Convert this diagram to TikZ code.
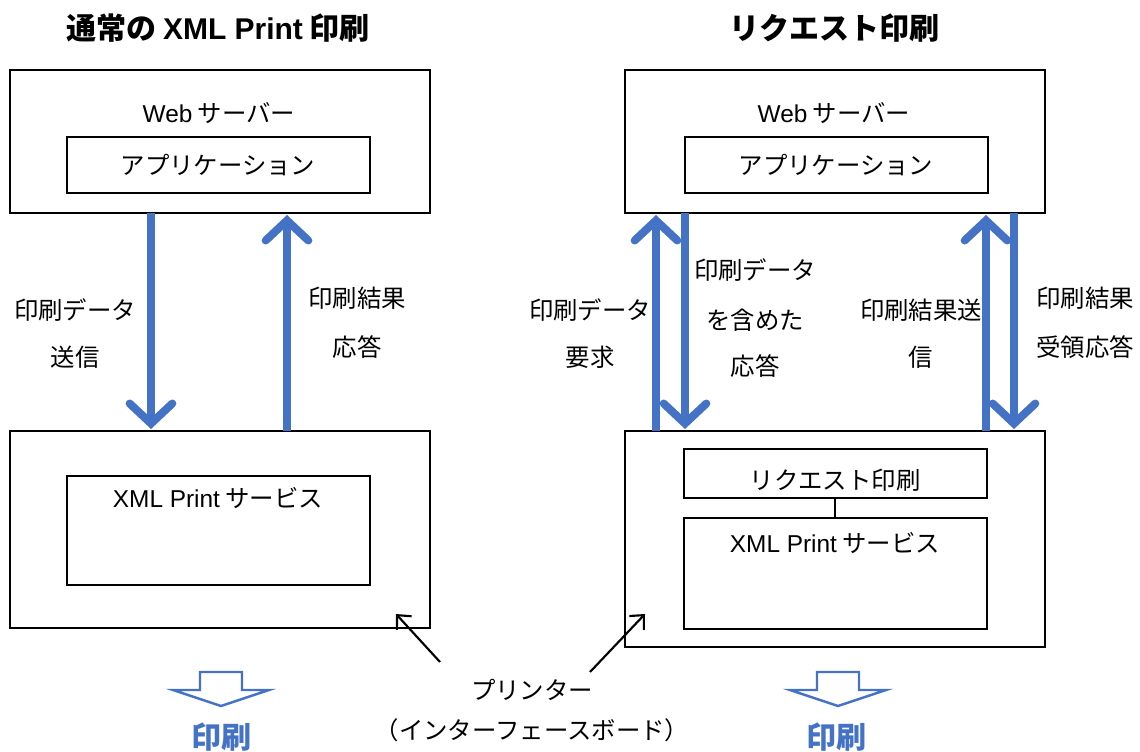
\documentclass[tikz,border=0pt]{standalone}
\usepackage{fontspec}
\setmainfont{Noto Sans CJK JP}
\newfontfamily\lat{Liberation Sans}
\usetikzlibrary{arrows.meta}
\definecolor{xblue}{HTML}{4472C4}
\tikzset{
  box/.style={draw=black, line width=1.5pt, inner sep=0pt},
  lbl/.style={font=\fontsize{18.3}{22}\selectfont, align=center},
  ttl/.style={font=\fontsize{22.5}{26}\selectfont\bfseries},
  barrow/.style={draw=xblue, line width=6pt, -{Straight Barb[length=15pt, width=32pt, line width=6pt, line cap=round]}},
  thin/.style={draw=black, line width=1.6pt, -{Straight Barb[length=8pt, width=15pt, line width=1.6pt]}},
}
\begin{document}
\begin{tikzpicture}[x=0.75pt, y=-0.75pt]
\useasboundingbox (0,0) rectangle (1140,751);
% titles
\node[ttl] (t1) at (218,28) {通常の {\lat XML Print} 印刷};
\node[ttl] (t2) at (834,28) {リクエスト印刷};
% left web server
\draw[box] (10,70) rectangle (430,213);
\node[lbl] (lwst) at (219,113) {{\lat Web} サーバー};
\draw[box] (67,137) rectangle (370,193);
\node[lbl] (lapp) at (218,165) {アプリケーション};
% right web server
\draw[box] (625,70) rectangle (1045,213);
\node[lbl] (rwst) at (834,113) {{\lat Web} サーバー};
\draw[box] (685,137) rectangle (988,193);
\node[lbl] (rapp) at (836,165) {アプリケーション};
% left printer
\draw[box] (10,431) rectangle (430,628);
\draw[box] (67,476) rectangle (370,585);
\node[lbl] (lxml) at (218,498) {{\lat XML Print} サービス};
% right printer
\draw[box] (625,431) rectangle (1045,647);
\draw[box] (684,449) rectangle (987,498);
\node[lbl] (rreq) at (835,480) {リクエスト印刷};
\draw[box] (684,518) rectangle (987,629);
\node[lbl] (rxml) at (835,543) {{\lat XML Print} サービス};
\coordinate (rq1) at (835,498);
\coordinate (rq2) at (835,518);
\draw[line width=1pt] (rq1) -- (rq2);
% blue arrows
\coordinate (a1s) at (151,213); \coordinate (a1e) at (151,429);
\coordinate (a2s) at (287,431); \coordinate (a2e) at (287,215);
\coordinate (a3s) at (656,431); \coordinate (a3e) at (656,215);
\coordinate (a4s) at (685,213); \coordinate (a4e) at (685,429);
\coordinate (a5s) at (986,431); \coordinate (a5e) at (986,215);
\coordinate (a6s) at (1014,213); \coordinate (a6e) at (1014,429);
\draw[barrow] (a1s) -- (a1e);
\draw[barrow] (a2s) -- (a2e);
\draw[barrow] (a3s) -- (a3e);
\draw[barrow] (a4s) -- (a4e);
\draw[barrow] (a5s) -- (a5e);
\draw[barrow] (a6s) -- (a6e);
% labels
\node[lbl] (l1a) at (75,310) {印刷データ};
\node[lbl] (l1b) at (75,357) {送信};
\node[lbl] (l2a) at (357,298) {印刷結果};
\node[lbl] (l2b) at (357,347) {応答};
\node[lbl] (l3a) at (590,310) {印刷データ};
\node[lbl] (l3b) at (590,357) {要求};
\node[lbl] (l4a) at (755,270) {印刷データ};
\node[lbl] (l4b) at (755,320) {を含めた};
\node[lbl] (l4c) at (755,366) {応答};
\node[lbl] (l5a) at (921,310) {印刷結果送};
\node[lbl] (l5b) at (921,357) {信};
\node[lbl] (l6a) at (1085,298) {印刷結果};
\node[lbl] (l6b) at (1085,347) {受領応答};
% printer label
\node[lbl] (prn) at (532,690) {プリンター};
\node[lbl] (prn2) at (532,730) {（インターフェースボード）};
\coordinate (p1s) at (440,662); \coordinate (p1e) at (396,614);
\coordinate (p2s) at (590,672); \coordinate (p2e) at (645,614);
\draw[thin] (p1s) -- (p1e);
\draw[thin] (p2s) -- (p2e);
% hollow down arrows
\foreach \cx in {221, 838}{
  \draw[xblue, line width=1.8pt, line join=miter] (\cx-21,672) -- (\cx+21,672) -- (\cx+21,690) -- (\cx+48,690) -- (\cx,706) -- (\cx-48,690) -- (\cx-21,690) -- cycle;
}
\node[ttl, text=xblue] (pl) at (221,737) {印刷};
\node[ttl, text=xblue] (pr) at (836,737) {印刷};
\end{tikzpicture}
\end{document}
